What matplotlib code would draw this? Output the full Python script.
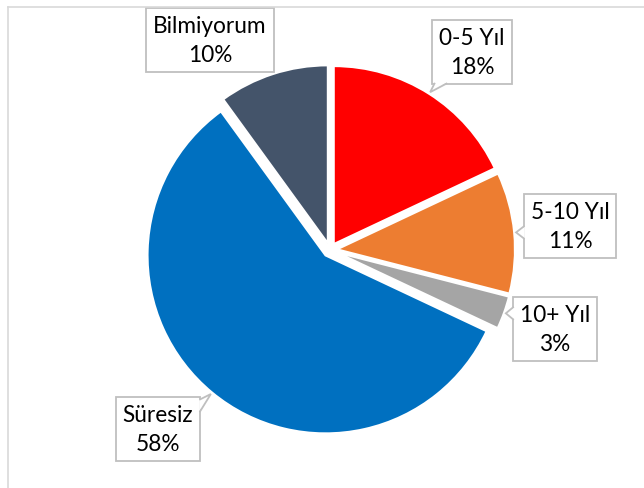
import numpy as np
import matplotlib
matplotlib.use("Agg")
import matplotlib.pyplot as plt
from matplotlib.lines import Line2D
from matplotlib.patches import Polygon

# ---------------------------------------------------------------------------
# DATA
# ---------------------------------------------------------------------------
categories = ["0-5 Yıl", "5-10 Yıl", "10+ Yıl", "Süresiz", "Bilmiyorum"]
shares = [18, 11, 3, 58, 10]
colors = ["#FF0000", "#ED7D31", "#A5A5A5", "#0070C0", "#44546A"]

# label box centres in pixel coordinates (x from left, y from top)
label_pos = [(472, 53), (570, 227), (555, 330), (158, 430), (210, 41)]

# ---------------------------------------------------------------------------
# LAYOUT
# ---------------------------------------------------------------------------
W, H = 644, 489
CX, CY = 330, H - 251
R = 178
EXPLODE = 7          # offset of every slice, in pixels
BORDER = "#BFBFBF"

plt.rcParams["font.family"] = ["Lato", "DejaVu Sans"]

fig = plt.figure(figsize=(W / 100, H / 100), dpi=100)
ax = fig.add_axes([0, 0, 1, 1])

wedges, _ = ax.pie(
    shares, colors=colors, startangle=90, counterclock=False,
    explode=[EXPLODE] * len(shares), center=(CX, CY), radius=R,
    wedgeprops=dict(edgecolor="white", linewidth=1.5),
)
ax.set_xlim(0, W)
ax.set_ylim(0, H)
ax.set_aspect("equal")
ax.axis("off")

# callout boxes
texts = []
for name, val, (px, py) in zip(categories, shares, label_pos):
    t = ax.text(px, H - py, f"{name}\n{val}%", ha="center", va="center",
                fontsize=16.3, color="black", linespacing=1.45, zorder=5,
                bbox=dict(boxstyle="square,pad=0.3", fc="white", ec=BORDER, lw=1.3))
    texts.append(t)

fig.canvas.draw()
inv = ax.transData.inverted()

# small wedge pointers from each box towards the middle of its slice
half = 6
for w, t in zip(wedges, texts):
    mid = np.deg2rad((w.theta1 + w.theta2) / 2)
    tx, ty = CX + 1.05 * R * np.cos(mid), CY + 1.05 * R * np.sin(mid)
    ext = t.get_bbox_patch().get_window_extent()
    (x0, y0), (x1, y1) = inv.transform([(ext.x0, ext.y0), (ext.x1, ext.y1)])
    dx = max(x0 - tx, 0, tx - x1)
    dy = max(y0 - ty, 0, ty - y1)
    if dx < 2 and dy < 2:
        continue
    if dx >= dy:
        sx = x0 if tx < x0 else x1
        yc = np.clip(ty, y0 + half + 2, y1 - half - 2)
        base = [(sx, yc - half), (sx, yc + half)]
        inner = -1 if tx < x0 else 1
        fill = [(sx - inner, yc - half), (tx, ty), (sx - inner, yc + half)]
    else:
        sy = y0 if ty < y0 else y1
        xc = np.clip(tx, x0 + half + 2, x1 - half - 2)
        base = [(xc - half, sy), (xc + half, sy)]
        inner = -1 if ty < y0 else 1
        fill = [(xc - half, sy - inner), (tx, ty), (xc + half, sy - inner)]
    ax.add_patch(Polygon(fill, closed=True, fc="white", ec="none", zorder=6))
    ax.plot([base[0][0], tx, base[1][0]], [base[0][1], ty, base[1][1]],
            color=BORDER, lw=1.3, zorder=7, solid_joinstyle="miter")

# chart area border (only the top/left edges are visible)
fig.add_artist(Line2D([8 / W, 8 / W], [0, 1 - 8 / H], color="#D9D9D9", lw=1.2))
fig.add_artist(Line2D([8 / W, 1], [1 - 8 / H, 1 - 8 / H], color="#D9D9D9", lw=1.2))

fig.savefig("out.png", dpi=100)
